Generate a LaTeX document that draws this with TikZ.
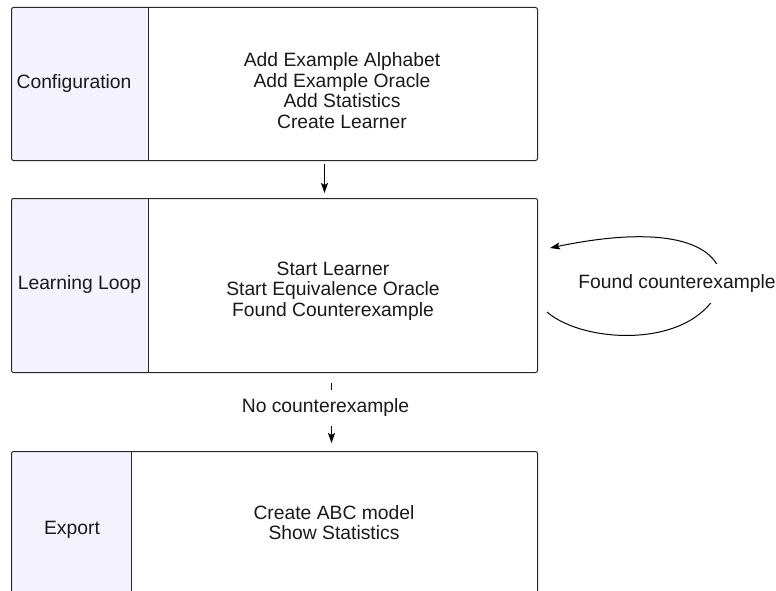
\documentclass[tikz,border=0pt]{standalone}
\usepackage{fontspec}
\setmainfont{Liberation Sans}
\usetikzlibrary{arrows.meta}
\definecolor{lanefill}{RGB}{244,242,253}
\definecolor{lanestroke}{RGB}{40,40,40}
\begin{document}
\begin{tikzpicture}[x=1pt,y=-1pt,
  every node/.style={font=\fontsize{19.3}{20.6}\selectfont, text=black!90},
  labfill/.style={fill=lanefill, inner sep=0pt, anchor=north west, minimum width=137pt},
  lane/.style={draw=lanestroke, line width=1pt, rounded corners=2pt, inner sep=0pt,
               anchor=north west, minimum width=526pt},
  divider/.style={draw=lanestroke, line width=1pt},
  lanetitle/.style={inner sep=0pt},
  bodytext/.style={inner sep=0pt, align=center},
  flow/.style={draw=black, line width=1pt, -{Stealth[length=10pt,width=7pt,inset=2pt]}},
  edgelabel/.style={fill=white, inner xsep=2pt, inner ysep=9pt}]
\useasboundingbox (0,0) rectangle (776,591);
\clip (0,0) rectangle (776,591);

% Configuration lane
\node[labfill, minimum height=153pt] (cfgL) at (11,7) {};
\node[lane, minimum height=153pt] (cfg) at (11,7) {};
\draw[divider] (cfgL.north east) -- (cfgL.south east);
\node[lanetitle] (cfgT) at (74,83.5) {Configuration};
\node[bodytext] (cfgB) at (342,90.5) {Add Example Alphabet\\Add Example Oracle\\Add Statistics\\Create Learner};

% Learning loop lane
\node[labfill, minimum height=174pt] (loopL) at (11,198) {};
\node[lane, minimum height=174pt] (loop) at (11,198) {};
\draw[divider] (loopL.north east) -- (loopL.south east);
\node[lanetitle] (loopT) at (79.5,285) {Learning Loop};
\node[bodytext] (loopB) at (333,291) {Start Learner\\Start Equivalence Oracle\\Found Counterexample};

% Export lane
\node[labfill, minimum height=160pt, minimum width=120pt] (expL) at (11,451) {};
\node[lane, minimum height=160pt] (exp) at (11,451) {};
\draw[divider] (expL.north east) -- (expL.south east);
\node[lanetitle] (expT) at (72,530) {Export};
\node[bodytext] (expB) at (334,522.5) {Create ABC model\\Show Statistics};

% Connectors
\draw[flow, shorten <=3pt, shorten >=5pt] ([xshift=50pt]cfg.south) -- ([xshift=50pt]loop.north);
\draw[flow, shorten <=10pt, shorten >=8pt] ([xshift=57pt]loop.south) -- ([xshift=57pt]exp.north)
  node[edgelabel, pos=0.443, xshift=-6pt] (noce) {No counterexample};

% Self loop
\coordinate (lpS) at (547,312);
\coordinate (lpM) at (722,282);
\coordinate (lpE) at (550,248);
\draw[flow] (lpS) .. controls (585,345) and (700,350) .. (lpM)
  .. controls (720,240) and (660,225) .. (lpE);
\node[edgelabel, inner ysep=11pt] (fce) at (677,283.5) {Found counterexample};
\end{tikzpicture}
\end{document}
